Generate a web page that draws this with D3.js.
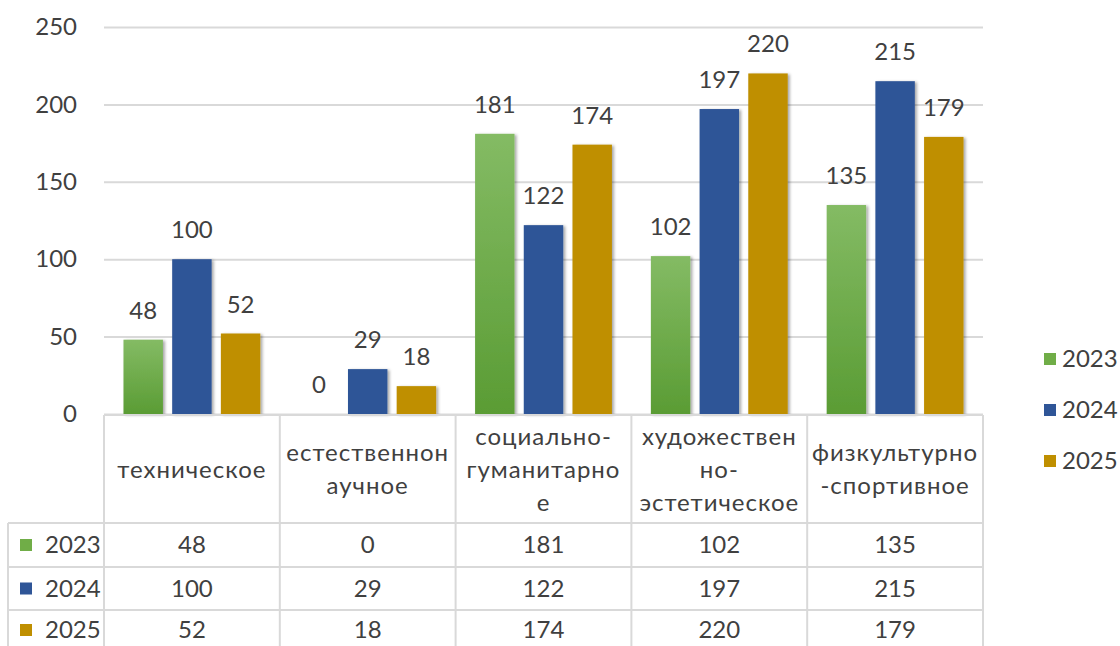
<!DOCTYPE html>
<html>
<head>
<meta charset="utf-8">
<script src="https://cdn.jsdelivr.net/npm/d3@7"></script>
<style>
  body { margin: 0; background: #fff; }
  text { font-family: Lato, "Open Sans", sans-serif; fill: #404040; }
</style>
</head>
<body>
<div id="chart"></div>
<script>
// data
var categories = ["техническое", "естественнонаучное", "социально-гуманитарное", "художественно-эстетическое", "физкультурно-спортивное"];
var categoryLines = [["техническое"], ["естественнон", "аучное"], ["социально-", "гуманитарно", "е"], ["художествен", "но-", "эстетическое"], ["физкультурно", "-спортивное"]];
var years = ["2023", "2024", "2025"];
var values2023 = [48, 0, 181, 102, 135];
var values2024 = [100, 29, 122, 197, 215];
var values2025 = [52, 18, 174, 220, 179];
var yTicks = [0, 50, 100, 150, 200, 250];

var series = [
    { year: years[0], values: values2023 },
    { year: years[1], values: values2024 },
    { year: years[2], values: values2025 }
];

var width = 1120, height = 646;
var plot = { left: 104, right: 983, top: 27, bottom: 414 };
var tableLeft = 8;
var rowLines = [523, 567, 610, 654];

var svg = d3.select("#chart").append("svg")
    .attr("width", width)
    .attr("height", height);

var defs = svg.append("defs");
var grad = defs.append("linearGradient")
    .attr("id", "greenGrad")
    .attr("x1", 0).attr("y1", 0).attr("x2", 0).attr("y2", 1);
grad.append("stop").attr("offset", "0%").attr("stop-color", "#84BB64");
grad.append("stop").attr("offset", "100%").attr("stop-color", "#5A9C34");

var shadow = defs.append("filter").attr("id", "shadow")
    .attr("x", "-20%").attr("y", "-10%").attr("width", "150%").attr("height", "130%");
shadow.append("feDropShadow")
    .attr("dx", 2).attr("dy", 1)
    .attr("stdDeviation", 1.5)
    .attr("flood-color", "#000")
    .attr("flood-opacity", 0.35);

var color = d3.scaleOrdinal()
    .domain(years)
    .range(["url(#greenGrad)", "#2F5597", "#BF8F00"]);
var swatch = d3.scaleOrdinal()
    .domain(years)
    .range(["#70AD47", "#2F5597", "#BF8F00"]);

// scales
var x0 = d3.scaleBand()
    .domain(categories)
    .range([plot.left, plot.right])
    .padding(0);
var x1 = d3.scaleBand()
    .domain(years)
    .range([0, x0.bandwidth()])
    .paddingInner(0.19)
    .paddingOuter(0.4);
var y = d3.scaleLinear()
    .domain([0, 250])
    .range([plot.bottom, plot.top]);

// gridlines + y labels
var yAxis = svg.append("g")
    .attr("transform", "translate(" + plot.left + ",0)")
    .call(d3.axisLeft(y).tickValues(yTicks).tickSize(-(plot.right - plot.left)).tickPadding(27));
yAxis.select(".domain").remove();
yAxis.selectAll(".tick line")
    .attr("stroke", "#D9D9D9")
    .attr("stroke-width", 2);
yAxis.selectAll(".tick text")
    .attr("font-size", "24px")
    .attr("font-family", "Lato, sans-serif")
    .attr("fill", "#404040");

// bars
var groups = svg.selectAll(".cat")
    .data(categories)
    .enter().append("g")
    .attr("class", "cat")
    .attr("transform", function(d){ return "translate(" + x0(d) + ",0)"; });

groups.selectAll("rect")
    .data(function(d, i){ return series.map(function(s){ return { year: s.year, value: s.values[i] }; }); })
    .enter().append("rect")
    .attr("x", function(d){ return x1(d.year); })
    .attr("y", function(d){ return y(d.value); })
    .attr("width", x1.bandwidth())
    .attr("height", function(d){ return y(0) - y(d.value); })
    .attr("fill", function(d){ return color(d.year); })
    .attr("filter", function(d){ return d.value > 0 ? "url(#shadow)" : null; });

groups.selectAll(".lbl")
    .data(function(d, i){ return series.map(function(s){ return { year: s.year, value: s.values[i] }; }); })
    .enter().append("text")
    .attr("class", "lbl")
    .attr("x", function(d){ return x1(d.year) + x1.bandwidth() / 2; })
    .attr("y", function(d){ return y(d.value) - 21; })
    .attr("text-anchor", "middle")
    .attr("font-size", "24px")
    .text(function(d){ return d.value; });

// data table
var table = svg.append("g").attr("class", "table");
var lineColor = "#D9D9D9";

table.append("line")
    .attr("x1", plot.left).attr("x2", plot.right)
    .attr("y1", plot.bottom + 1).attr("y2", plot.bottom + 1)
    .attr("stroke", lineColor).attr("stroke-width", 2);

rowLines.forEach(function(ry){
    table.append("line")
        .attr("x1", tableLeft).attr("x2", plot.right)
        .attr("y1", ry).attr("y2", ry)
        .attr("stroke", lineColor).attr("stroke-width", 2);
});

table.append("line")
    .attr("x1", tableLeft).attr("x2", tableLeft)
    .attr("y1", rowLines[0]).attr("y2", height)
    .attr("stroke", lineColor).attr("stroke-width", 2);

categories.concat([null]).forEach(function(c, i){
    var cx = c ? x0(c) : plot.right;
    table.append("line")
        .attr("x1", cx).attr("x2", cx)
        .attr("y1", plot.bottom + 1).attr("y2", height)
        .attr("stroke", lineColor).attr("stroke-width", 2);
});

// header labels
var headerMid = (plot.bottom + rowLines[0]) / 2 + 1;
var lineGap = 33;
categories.forEach(function(c, i){
    var lines = categoryLines[i];
    var t = table.append("text")
        .attr("text-anchor", "middle")
        .attr("font-size", "24px")
        .attr("letter-spacing", "1px");
    lines.forEach(function(l, j){
        t.append("tspan")
            .attr("x", x0(c) + x0.bandwidth() / 2)
            .attr("y", headerMid + (j - (lines.length - 1) / 2) * lineGap)
            .attr("dy", "0.35em")
            .text(l);
    });
});

// rows
series.forEach(function(s, r){
    var cy = (rowLines[r] + rowLines[r + 1]) / 2;
    if (r === 2) cy = 630;
    table.append("rect")
        .attr("x", 20).attr("y", cy - 6)
        .attr("width", 12).attr("height", 12)
        .attr("fill", swatch(s.year));
    table.append("text")
        .attr("x", 45).attr("y", cy)
        .attr("dy", "0.35em")
        .attr("font-size", "24px")
        .text(s.year);
    categories.forEach(function(c, i){
        table.append("text")
            .attr("x", x0(c) + x0.bandwidth() / 2)
            .attr("y", cy)
            .attr("dy", "0.35em")
            .attr("text-anchor", "middle")
            .attr("font-size", "24px")
            .text(s.values[i]);
    });
});

// legend
var legend = svg.append("g").attr("transform", "translate(1044,359)");
years.forEach(function(yr, i){
    var row = legend.append("g").attr("transform", "translate(0," + (i * 51) + ")");
    row.append("rect")
        .attr("y", -6).attr("width", 12).attr("height", 12)
        .attr("fill", swatch(yr));
    row.append("text")
        .attr("x", 18)
        .attr("dy", "0.35em")
        .attr("font-size", "24px")
        .text(yr);
});
</script>
</body>
</html>
